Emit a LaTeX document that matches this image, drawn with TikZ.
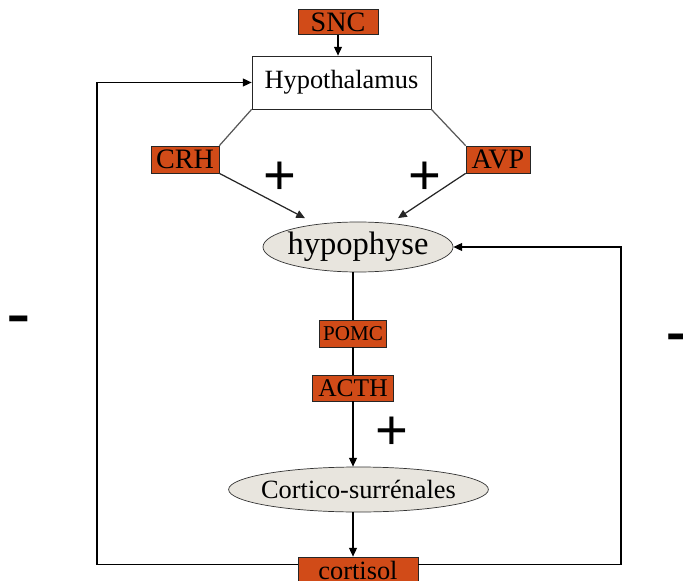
\documentclass[tikz,border=0pt]{standalone}
\usepackage{fontspec}
\setmainfont{Liberation Serif}
\newfontfamily\signfont{Liberation Sans}
\usetikzlibrary{arrows.meta,shapes.geometric,positioning,calc}
\definecolor{boxorange}{RGB}{209,75,24}
\definecolor{glandgray}{RGB}{232,229,222}

\begin{document}
\begin{tikzpicture}[
  hormone/.style={rectangle,draw=black!85,fill=boxorange,inner sep=1pt,minimum height=5.4mm},
  organ/.style={ellipse,draw=black!80,fill=glandgray,inner ysep=0pt,inner xsep=-1.1mm},
  arrow/.style={-{Triangle[length=5pt,width=4.5pt]},line width=0.7pt},
  link/.style={line width=0.7pt},
  sign/.style={font=\signfont\fontsize{32}{32}\selectfont,inner sep=0pt},
  minus/.style={font=\signfont\fontsize{42}{42}\selectfont,inner sep=0pt}
]
\useasboundingbox (0,0) rectangle (13.66,11.6);

% Nodes
\node[hormone,minimum width=16mm,minimum height=5mm,font=\fontsize{16}{16}\selectfont] (snc) at (6.76,11.16) {SNC};
\node[draw=black!85,fill=white,minimum width=35.8mm,minimum height=10.6mm,font=\fontsize{15}{15}\selectfont] (hypo) at (6.83,9.95) {Hypothalamus};
\node[hormone,minimum width=13.6mm,font=\fontsize{16}{16}\selectfont] (crh) at (3.70,8.41) {CRH};
\node[hormone,minimum width=12.8mm,font=\fontsize{16}{16}\selectfont] (avp) at (9.96,8.41) {AVP};
\node[organ,minimum width=38mm,minimum height=10mm,font=\fontsize{18.5}{18.5}\selectfont] (hypoph) at (7.16,6.66) {hypophyse};
\node[hormone,minimum width=13.4mm,font=\fontsize{12}{12}\selectfont] (pomc) at (7.06,4.93) {POMC};
\node[hormone,minimum width=16.2mm,minimum height=5.2mm,font=\fontsize{14.5}{14.5}\selectfont] (acth) at (7.06,3.84) {ACTH};
\node[organ,minimum width=51.8mm,minimum height=9mm,font=\fontsize{15}{15}\selectfont] (cortico) at (7.17,1.81) {Cortico-surrénales};
\node[hormone,minimum width=24mm,minimum height=5.2mm,font=\fontsize{15}{15}\selectfont] (cortisol) at (7.16,0.20) {cortisol};

\coordinate (leftbend) at (1.94,9.95);
\coordinate (rightbend) at (12.42,6.66);

% Axis
\draw[arrow] (snc) -- (snc |- hypo.north);
\draw[link,black!65] (hypo.south west) -- (crh.north east);
\draw[link,black!65] (hypo.south east) -- (avp.north west);
\draw[arrow,black!85] (crh.south east) -- ([xshift=-1.06cm,yshift=2pt]hypoph.north);
\draw[arrow,black!85] (avp.south west) -- ([xshift=0.8cm,yshift=2pt]hypoph.north);
\draw[link] (pomc |- hypoph.south) -- (pomc);
\draw[link] (pomc) -- (acth);
\draw[arrow] (acth) -- (acth |- cortico.north);
\draw[arrow] (acth |- cortico.south) -- (acth |- cortisol.north);

% Feedback
\draw[arrow] ([yshift=-1.6mm]cortisol.north west) -| (leftbend) -- (hypo.west);
\draw[arrow] ([yshift=-1.6mm]cortisol.north east) -| (rightbend) -- (hypoph.east);

% Signs
\node[sign] (plusL) at (5.60,8.04) {+};
\node[sign] (plusR) at (8.50,8.04) {+};
\node[sign] (plusC) at (7.84,2.94) {+};
\node[minus] (minusL) at (0.38,5.06) {-};
\node[minus] (minusR) at (13.55,4.70) {-};
\end{tikzpicture}
\end{document}
